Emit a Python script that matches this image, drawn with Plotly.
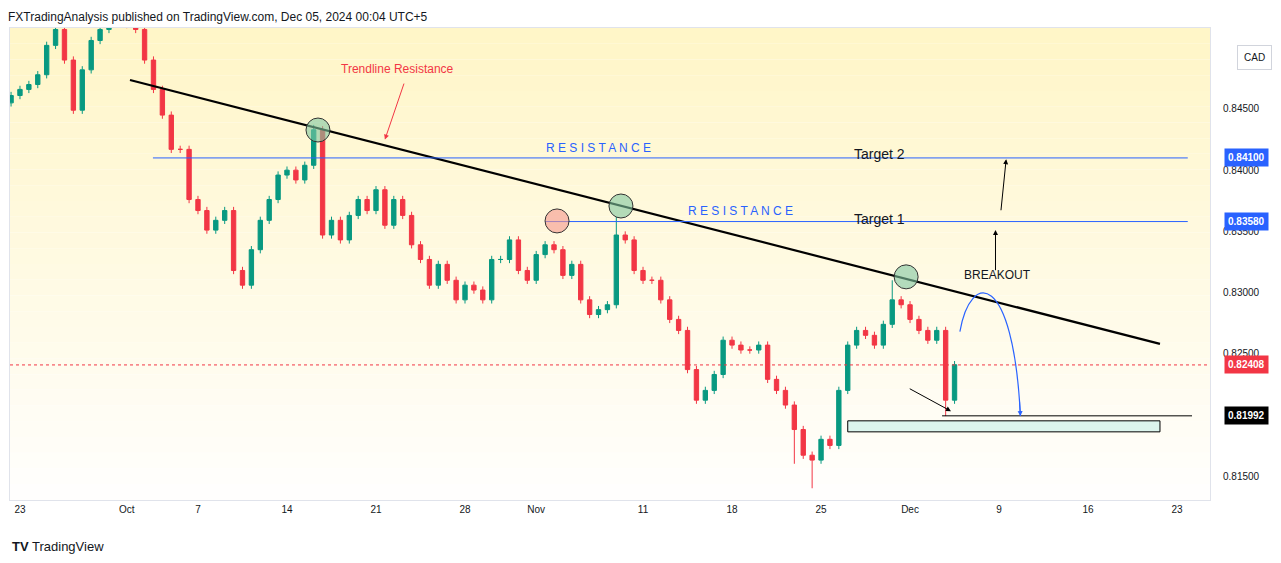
import plotly.graph_objects as go

# trading-day index (Sep 23 = 0), half-day candles
closes = [0.8461,0.8466,0.8470,0.8478,0.8502,0.8515,0.8490,0.8449,0.8482,0.8506,
          0.8515,0.8523,0.8527,0.8519,0.8515,0.8490,0.8466,0.8445,0.8417,0.8417,
          0.8376,0.8367,0.8351,0.8359,0.8367,0.8318,0.8306,0.8335,0.8359,0.8376,
          0.8396,0.8400,0.8392,0.8404,0.8433,0.8347,0.8359,0.8343,0.8363,0.8376,
          0.8367,0.8384,0.8355,0.8376,0.8363,0.8339,0.8327,0.8306,0.8323,0.8310,
          0.8294,0.8306,0.8302,0.8294,0.8327,0.8327,0.8343,0.8318,0.8310,0.8331,
          0.8339,0.8335,0.8314,0.8323,0.8294,0.8282,0.8286,0.8290,0.8347,0.8343,
          0.8318,0.8310,0.8310,0.8294,0.8278,0.8269,0.8237,0.8212,0.8220,0.8233,
          0.8261,0.8257,0.8253,0.8253,0.8257,0.8229,0.8220,0.8208,0.8188,0.8167,
          0.8163,0.8180,0.8175,0.8220,0.8257,0.8269,0.8265,0.8257,0.8274,0.8294,
          0.8290,0.8278,0.8269,0.8261,0.8269,0.8212,0.8241]
first_open = 0.8455
wick = 0.0003
special_highs = {34: 0.8437, 68: 0.8362, 99: 0.8310}
special_lows = {88: 0.8160, 90: 0.8140, 105: 0.8199}

tick_vals = [0, 6, 10, 15, 20, 25, 29, 35, 40, 45, 50, 55, 60, 65]
tick_text = ["23", "Oct", "7", "14", "21", "28", "Nov", "11", "18", "25", "Dec", "9", "16", "23"]
price_ticks = [0.815, 0.825, 0.830, 0.835, 0.840, 0.845]

last_price = 0.82408
target1 = 0.83580
target2 = 0.84100
support = 0.81992

xs = [-0.5 + 0.5 * i for i in range(len(closes))]
opens = [first_open] + closes[:-1]
highs = [special_highs.get(i, max(o, c) + wick) for i, (o, c) in enumerate(zip(opens, closes))]
lows = [special_lows.get(i, min(o, c) - wick) for i, (o, c) in enumerate(zip(opens, closes))]

UP, DN = "#089981", "#f23645"
fig = go.Figure(go.Candlestick(x=xs, open=opens, high=highs, low=lows, close=closes,
                               increasing=dict(line=dict(color=UP, width=1), fillcolor=UP),
                               decreasing=dict(line=dict(color=DN, width=1), fillcolor=DN),
                               whiskerwidth=0, showlegend=False, hoverinfo="skip"))

X0, X1 = -0.56, 66.85
Y0, Y1 = 0.81304, 0.85162
shapes = []
n = 30
for k in range(n):
    f = k / n
    r, g, b = 255, int(246 + 9 * f), int(200 + 55 * f)
    shapes.append(dict(type="rect", xref="paper", yref="paper", x0=0, x1=1,
                       y0=1 - (k + 1) / n, y1=1 - k / n, fillcolor=f"rgb({r},{g},{b})",
                       line_width=0, layer="below"))
shapes += [
    dict(type="line", x0=6.18, y0=0.84737, x1=64.04, y1=0.8258, line=dict(color="black", width=2.2)),
    dict(type="line", x0=7.47, y0=target2, x1=65.6, y1=target2, line=dict(color="#2962ff", width=1)),
    dict(type="line", x0=29.5, y0=target1, x1=65.6, y1=target1, line=dict(color="#2962ff", width=1)),
    dict(type="line", xref="paper", x0=0, x1=1, y0=last_price, y1=last_price, line=dict(color=DN, width=1, dash="dot")),
    dict(type="line", x0=51.8, y0=support, x1=65.84, y1=support, line=dict(color="black", width=1)),
    dict(type="rect", x0=46.5, x1=64.04, y0=0.81861, y1=0.81951, fillcolor="rgba(178,235,230,0.45)", line=dict(color="black", width=1)),
    dict(type="path", path="M 52.8,0.8268 C 53.4,0.8318 55.8,0.8318 56.2,0.8199", line=dict(color="#2962ff", width=1.2)),
]
for (cx, cy, col) in [(16.74, 0.84328, "rgba(129,199,160,0.6)"), (33.76, 0.83707, "rgba(129,199,160,0.6)"),
                      (30.17, 0.83585, "rgba(245,150,140,0.6)"), (49.78, 0.83128, "rgba(129,199,160,0.6)")]:
    shapes.append(dict(type="circle", xsizemode="pixel", ysizemode="pixel", xanchor=cx, yanchor=cy,
                       x0=-12, x1=12, y0=-12, y1=12, fillcolor=col, line=dict(color="#333", width=1)))

ann = [
    dict(xref="paper", yref="paper", x=0.0, y=-0.0975, xanchor="left", yanchor="middle", showarrow=False,
         text="<b>TV</b> TradingView", font=dict(size=13, color="#131722")),
    dict(x=21.2, y=0.8483, text="Trendline Resistance", showarrow=False, font=dict(size=12, color="#f23645")),
    dict(x=20.5, y=0.8425, ax=21.6, ay=0.8472, axref="x", ayref="y", text="", showarrow=True,
         arrowhead=2, arrowsize=1, arrowwidth=1, arrowcolor="#f23645"),
    dict(x=32.5, y=0.8411, text="R E S I S T A N C E", showarrow=False, font=dict(size=12, color="#2962ff"), yanchor="bottom"),
    dict(x=40.5, y=0.8359, text="R E S I S T A N C E", showarrow=False, font=dict(size=12, color="#2962ff"), yanchor="bottom"),
    dict(x=48.3, y=0.8413, text="Target 2", showarrow=False, font=dict(size=14, color="#131722")),
    dict(x=48.3, y=0.8360, text="Target 1", showarrow=False, font=dict(size=14, color="#131722")),
    dict(x=54.9, y=0.8314, text="BREAKOUT", showarrow=False, font=dict(size=12, color="#131722")),
    dict(x=54.8, y=0.8351, ax=54.8, ay=0.8317, axref="x", ayref="y", text="", showarrow=True,
         arrowhead=2, arrowsize=1, arrowwidth=1, arrowcolor="black"),
    dict(x=55.4, y=0.8409, ax=55.1, ay=0.8366, axref="x", ayref="y", text="", showarrow=True,
         arrowhead=2, arrowsize=1, arrowwidth=1, arrowcolor="black"),
    dict(x=52.3, y=0.8203, ax=49.9, ay=0.8222, axref="x", ayref="y", text="", showarrow=True,
         arrowhead=2, arrowsize=1, arrowwidth=1, arrowcolor="black"),
    dict(x=56.2, y=0.8199, ax=56.15, ay=0.8212, axref="x", ayref="y", text="", showarrow=True,
         arrowhead=2, arrowsize=1, arrowwidth=1, arrowcolor="#2962ff"),
    dict(xref="paper", yref="paper", x=1.052, y=0.965, text="CAD", showarrow=False,
         font=dict(size=10, color="#131722"), bgcolor="white", bordercolor="#d1d4dc", borderwidth=1, borderpad=6),
]
for val, bg in [(target2, "#2962ff"), (target1, "#2962ff"), (last_price, DN), (support, "black")]:
    ann.append(dict(xref="paper", x=1.012, y=val, xanchor="left", text=f"<b>{val:.5f}</b>", showarrow=False,
                    font=dict(size=10, color="white"), bgcolor=bg, borderpad=3))

fig.update_layout(
    width=1273, height=555, margin=dict(l=2, r=71, t=20, b=63, autoexpand=False),
    title=dict(text="FXTradingAnalysis published on TradingView.com, Dec 05, 2024 00:04 UTC+5",
               x=0.0, xref="container", xanchor="left", y=0.992, yref="container", yanchor="top",
               font=dict(size=12, color="#131722")),
    paper_bgcolor="white", plot_bgcolor="white", font=dict(family="Liberation Sans, Arial", color="#131722"),
    shapes=shapes, annotations=ann, showlegend=False,
    xaxis=dict(range=[X0, X1], tickvals=tick_vals, ticktext=tick_text, showgrid=False, zeroline=False,
               rangeslider=dict(visible=False), tickfont=dict(size=10), ticks="", showline=True,
               linecolor="#e0e3eb", mirror=True),
    yaxis=dict(range=[Y0, Y1], side="right", tickvals=price_ticks, tickformat=".5f", showgrid=False,
               zeroline=False, tickfont=dict(size=10), showline=True, linecolor="#e0e3eb", mirror=True,
               ticklabelstandoff=10),
)
fig.write_html("out.html")
